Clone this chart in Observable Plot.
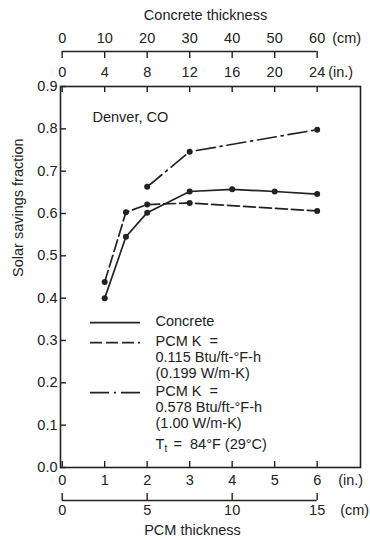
<!DOCTYPE html>
<html><head><meta charset="utf-8">
<script src="https://cdn.jsdelivr.net/npm/d3@7"></script>
<script src="https://cdn.jsdelivr.net/npm/@observablehq/plot@0.6"></script>
<style>
body{margin:0;background:#fff}
#chart svg{display:block}
</style>
</head><body><div id="chart"></div>
<script>
// ---- tick labels ----
const pcmIn = [0, 1, 2, 3, 4, 5, 6];
const pcmCm = [0, 5, 10, 15];
const concreteIn = [0, 4, 8, 12, 16, 20, 24];
const concreteCm = [0, 10, 20, 30, 40, 50, 60];
const yTicks = [0, 0.1, 0.2, 0.3, 0.4, 0.5, 0.6, 0.7, 0.8, 0.9];

// ---- series (thickness in inches, solar savings fraction) ----
const concreteThickIn = [4, 6, 8, 12, 16, 20, 24];       // concrete thickness (top scale)
const concreteSSF     = [0.400, 0.545, 0.602, 0.652, 0.657, 0.652, 0.646];
const pcmLowThickIn   = [1, 1.5, 2, 3, 6];               // PCM thickness (bottom scale)
const pcmLowSSF       = [0.438, 0.603, 0.621, 0.625, 0.606];
const pcmHighThickIn  = [2, 3, 6];
const pcmHighSSF      = [0.663, 0.746, 0.798];

const seriesNames = ["Concrete", "PCM K = 0.115", "PCM K = 0.578"];
const legendLines = [
  ["Concrete"],
  ["PCM K\u00a0\u00a0=", "0.115 Btu/ft-°F-h", "(0.199 W/m-K)"],
  ["PCM K\u00a0\u00a0=", "0.578 Btu/ft-°F-h", "(1.00 W/m-K)"]
];
const noteText = ["T", "t", "=\u00a0\u00a084°F (29°C)"];

// scale conversions as drawn on the chart
const CONCRETE_PER_PCM = 4;   // concrete in. per PCM in.
const CM_PER_IN = 2.5;

const ink = "#222";
const font = "'Liberation Sans', Arial, Helvetica, sans-serif";
const FS = 14.5;

const W = 370, H = 540, ML = 60, MR = 10, MT = 86, MB = 73;
const FW = W - ML - MR, FH = H - MT - MB;

const mk = (xs, ys, name) => xs.map((x, i) => ({x, y: ys[i], name}));
const concreteRows = mk(concreteThickIn.map(d => d / CONCRETE_PER_PCM), concreteSSF, seriesNames[0]);
const lowRows = mk(pcmLowThickIn, pcmLowSSF, seriesNames[1]);
const highRows = mk(pcmHighThickIn, pcmHighSSF, seriesNames[2]);

const dashes = [null, "12,4", "19,5,2,5"];
const txtStyle = {fill: ink, fontSize: FS, lineAnchor: "middle"};
const t = (txt, o) => Plot.text([txt], {text: d => d, ...txtStyle, ...o});

// legend layout (pixels relative to the frame's top-left)
const legRows = [[234.7], [254.7, 270.7, 286.7], [304.7, 321.3, 337.3]];
const legMarks = [];
legendLines.forEach((lines, k) => {
  legMarks.push(Plot.ruleY([0.9], {insetLeft: 30, insetRight: FW - 80, dy: legRows[k][0] + 1.5, stroke: ink, strokeWidth: 1.7, strokeDasharray: dashes[k]}));
  lines.forEach((ln, j) => legMarks.push(t(ln, {frameAnchor: "top-left", textAnchor: "start", dx: 95, dy: legRows[k][j]})));
});
legMarks.push(t(noteText[0], {frameAnchor: "top-left", textAnchor: "start", dx: 95, dy: 358}));
legMarks.push(t(noteText[1], {frameAnchor: "top-left", textAnchor: "start", dx: 104, dy: 362, fontSize: 10}));
legMarks.push(t(noteText[2], {frameAnchor: "top-left", textAnchor: "start", dx: 113, dy: 358}));

const chart = Plot.plot({
  width: W, height: H,
  marginLeft: ML, marginRight: MR, marginTop: MT, marginBottom: MB,
  style: {fontFamily: font, background: "#fff", color: ink},
  x: {domain: [-0.04, 7.02], axis: null},
  y: {domain: [0, 0.9], axis: null},
  marks: [
    Plot.frame({stroke: ink, strokeWidth: 1.6}),
    // y ticks (inward) + labels
    Plot.ruleY(yTicks, {y: d => d, insetRight: FW - 6, stroke: ink, strokeWidth: 1.4}),
    Plot.text(yTicks, {y: d => d, text: d => d.toFixed(1), frameAnchor: "left", textAnchor: "end", dx: -3, dy: 0, ...txtStyle}),
    // bottom inch axis on frame
    Plot.ruleX(pcmIn, {x: d => d, insetTop: FH - 6, stroke: ink, strokeWidth: 1.4}),
    Plot.text(pcmIn, {x: d => d, text: d => String(d), frameAnchor: "bottom", dy: 13, ...txtStyle}),
    t("(in.)", {x: pcmIn[pcmIn.length - 1], frameAnchor: "bottom", textAnchor: "start", dx: 21, dy: 13}),
    // bottom cm axis
    Plot.ruleY([0], {x1: 0, x2: pcmCm[pcmCm.length - 1] / CM_PER_IN, dy: 33, stroke: ink, strokeWidth: 1.6}),
    Plot.ruleX(pcmCm, {x: d => d / CM_PER_IN, insetTop: FH - 7, dy: 33, stroke: ink, strokeWidth: 1.4}),
    Plot.text(pcmCm, {x: d => d / CM_PER_IN, text: d => String(d), frameAnchor: "bottom", dy: 43, ...txtStyle}),
    t("(cm)", {x: pcmCm[pcmCm.length - 1] / CM_PER_IN, frameAnchor: "bottom", textAnchor: "start", dx: 23, dy: 43}),
    t("PCM thickness", {frameAnchor: "bottom", dx: -18, dy: 63}),
    // top concrete inch axis on frame
    Plot.ruleX(concreteIn, {x: d => d / CONCRETE_PER_PCM, insetBottom: FH - 6, stroke: ink, strokeWidth: 1.4}),
    Plot.text(concreteIn, {x: d => d / CONCRETE_PER_PCM, text: d => String(d), frameAnchor: "top", dy: -14, ...txtStyle}),
    t("(in.)", {x: concreteIn[concreteIn.length - 1] / CONCRETE_PER_PCM, frameAnchor: "top", textAnchor: "start", dx: 11, dy: -14}),
    // top concrete cm axis
    Plot.ruleY([0.9], {x1: 0, x2: concreteCm[concreteCm.length - 1] / CM_PER_IN / CONCRETE_PER_PCM, dy: -35, stroke: ink, strokeWidth: 1.6}),
    Plot.ruleX(concreteCm, {x: d => d / CM_PER_IN / CONCRETE_PER_PCM, insetBottom: FH - 7, dy: -35, stroke: ink, strokeWidth: 1.4}),
    Plot.text(concreteCm, {x: d => d / CM_PER_IN / CONCRETE_PER_PCM, text: d => String(d), frameAnchor: "top", dy: -48, ...txtStyle}),
    t("(cm)", {x: concreteCm[concreteCm.length - 1] / CM_PER_IN / CONCRETE_PER_PCM, frameAnchor: "top", textAnchor: "start", dx: 15, dy: -48}),
    t("Concrete thickness", {frameAnchor: "top", dx: -5, dy: -71}),
    // y title
    t("Solar savings fraction", {frameAnchor: "left", rotate: -90, dx: -42, dy: 0}),
    // location
    t("Denver, CO", {frameAnchor: "top-left", textAnchor: "start", dx: 32, dy: 31}),
    // data
    Plot.line(concreteRows, {x: "x", y: "y", stroke: ink, strokeWidth: 1.7}),
    Plot.line(lowRows, {x: "x", y: "y", stroke: ink, strokeWidth: 1.7, strokeDasharray: dashes[1]}),
    Plot.line(highRows, {x: "x", y: "y", stroke: ink, strokeWidth: 1.7, strokeDasharray: dashes[2]}),
    Plot.dot([...concreteRows, ...lowRows, ...highRows], {x: "x", y: "y", r: 3, fill: ink, stroke: "none"}),
    ...legMarks
  ]
});
document.getElementById("chart").append(chart);
</script>
</body></html>
